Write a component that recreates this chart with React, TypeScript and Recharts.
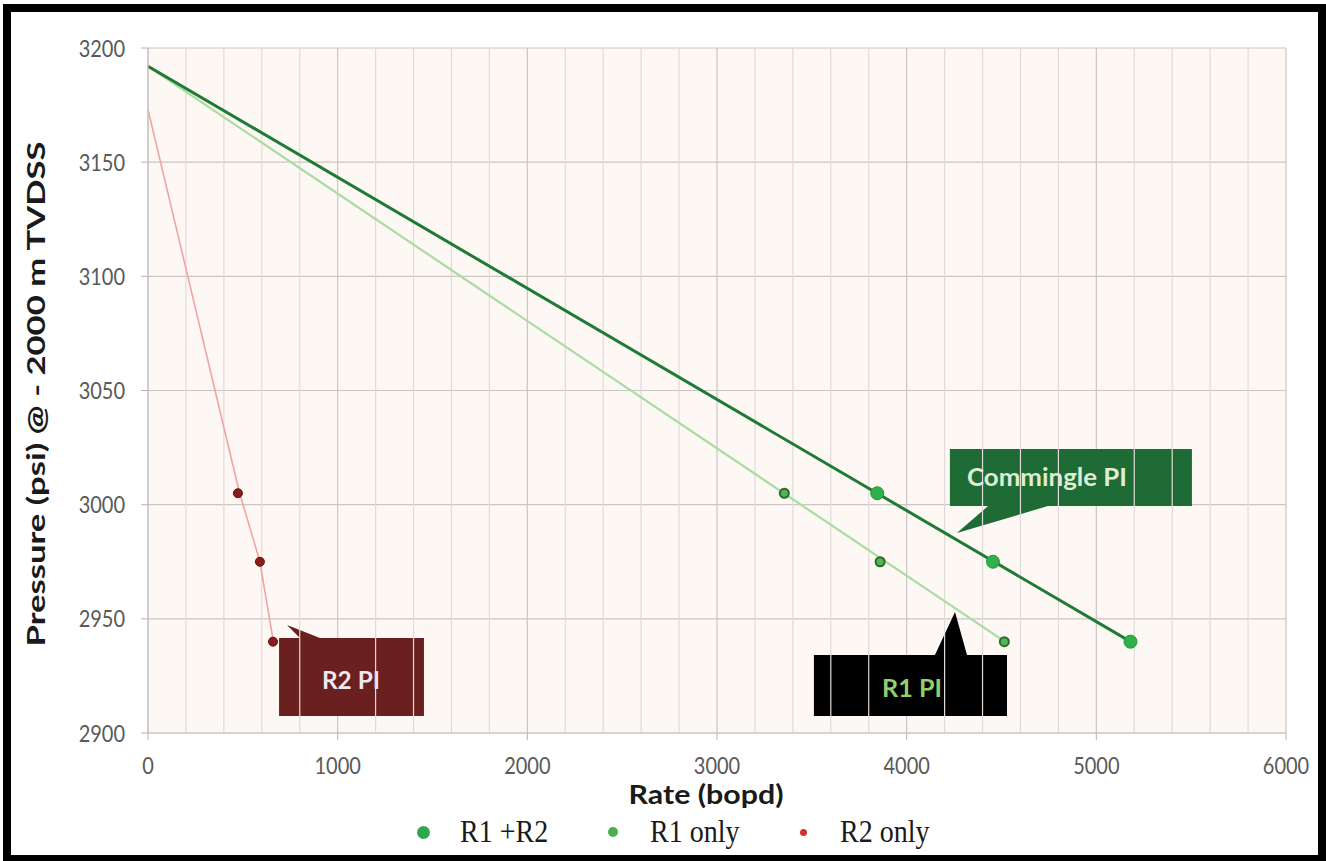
import React from "react";
import {
  CartesianGrid,
  ComposedChart,
  Label,
  Line,
  ReferenceArea,
  ReferenceLine,
  Scatter,
  XAxis,
  YAxis,
} from "recharts";

const xTicks = [0, 1000, 2000, 3000, 4000, 5000, 6000];
const xMinorGrid = [
  200, 400, 600, 800, 1200, 1400, 1600, 1800, 2200, 2400, 2600, 2800, 3200, 3400, 3600, 3800, 4200, 4400,
  4600, 4800, 5200, 5400, 5600, 5800,
];
const yTicks = [2900, 2950, 3000, 3050, 3100, 3150, 3200];

// fitted PI lines
const commingleFit = [
  { x: 0, y: 3192 },
  { x: 5180, y: 2940 },
];
const r1Fit = [
  { x: 0, y: 3192 },
  { x: 4500, y: 2941 },
];
const r2Fit = [
  { x: 0, y: 3173 },
  { x: 480, y: 3006 },
  { x: 590, y: 2975 },
  { x: 665, y: 2938 },
];

// measured points
const r1r2Points = [
  { x: 3845, y: 3005 },
  { x: 4455, y: 2975 },
  { x: 5180, y: 2940 },
];
const r1Points = [
  { x: 3355, y: 3005 },
  { x: 3860, y: 2975 },
  { x: 4515, y: 2940 },
];
const r2Points = [
  { x: 474, y: 3005 },
  { x: 590, y: 2975 },
  { x: 659, y: 2940 },
];

const legendItems = [
  { name: "R1 +R2", color: "#2ea84a", r: 6.5 },
  { name: "R1 only", color: "#4caf50", r: 5 },
  { name: "R2 only", color: "#d33030", r: 3.5 },
];

type Callout = {
  text: string;
  left: number;
  right: number;
  top: number;
  bottom: number;
  edge: "top" | "bottom";
  baseA: number;
  baseB: number;
  apexX: number;
  apexY: number;
  textX: number;
  textY: number;
  fill: string;
  textColor: string;
  textLength: number;
};

const callouts: Callout[] = [
  {
    text: "Commingle PI",
    left: 4228, right: 5504, top: 3024.4, bottom: 2999.4,
    edge: "bottom", baseA: 4429, baseB: 4745, apexX: 4265, apexY: 2987.6,
    textX: 4740, textY: 3012.5, fill: "#1f6b35", textColor: "#dcefd2", textLength: 160,
  },
  {
    text: "R1 PI",
    left: 3511, right: 4529, top: 2934.2, bottom: 2907.4,
    edge: "top", baseA: 4149, baseB: 4318, apexX: 4255, apexY: 2953,
    textX: 4028, textY: 2920, fill: "#000000", textColor: "#8fd06c", textLength: 60,
  },
  {
    text: "R2 PI",
    left: 691, right: 1455, top: 2941.6, bottom: 2907.4,
    edge: "top", baseA: 801, baseB: 907, apexX: 733, apexY: 2947.3,
    textX: 1070, textY: 2923.5, fill: "#6b2020", textColor: "#efe8f2", textLength: 58,
  },
];

const calloutShape = (c: Callout) => (props: any) => {
  const { x, y, width, height } = props;
  const sx = (v: number) => x + ((v - c.left) / (c.right - c.left)) * width;
  const sy = (v: number) => y + ((c.top - v) / (c.top - c.bottom)) * height;
  const L = sx(c.left);
  const R = sx(c.right);
  const T = sy(c.top);
  const B = sy(c.bottom);
  const d =
    c.edge === "top"
      ? `M${L},${T} L${sx(c.baseA)},${T} L${sx(c.apexX)},${sy(c.apexY)} L${sx(c.baseB)},${T} L${R},${T} L${R},${B} L${L},${B} Z`
      : `M${L},${T} L${R},${T} L${R},${B} L${sx(c.baseB)},${B} L${sx(c.apexX)},${sy(c.apexY)} L${sx(c.baseA)},${B} L${L},${B} Z`;
  return (
    <g>
      <path d={d} fill={c.fill} />
      <text
        x={sx(c.textX)}
        y={sy(c.textY)}
        textAnchor="middle"
        dominantBaseline="central"
        fontFamily="Lato"
        fontWeight={700}
        fontSize={24}
        fill={c.textColor}
        textLength={c.textLength}
        lengthAdjust="spacingAndGlyphs"
      >
        {c.text}
      </text>
    </g>
  );
};

const dot = (r: number, fill: string, stroke?: string, sw = 0) => (props: any) =>
  <circle cx={props.cx} cy={props.cy} r={r} fill={fill} stroke={stroke ?? "none"} strokeWidth={sw} />;

const tickFont = { fontFamily: "Lato", fontSize: 20, fill: "#595959" };

const YTick = (props: any) => (
  <g transform={`translate(${props.x},${props.y})`}>
    <text textAnchor="end" dominantBaseline="central" transform="scale(1,1.16)" {...tickFont}>
      {props.payload.value}
    </text>
  </g>
);

const XTick = (props: any) => (
  <g transform={`translate(${props.x},${props.y + 26})`}>
    <text textAnchor="middle" dominantBaseline="central" transform="scale(1,1.12)" {...tickFont}>
      {props.payload.value}
    </text>
  </g>
);

export default function App() {
  return (
    <div style={{ position: "relative", width: 1326, height: 861, background: "#fff", overflow: "hidden" }}>
      <style>{`body{margin:0}`}</style>
      <ComposedChart
        width={1326}
        height={861}
        margin={{ top: 48, right: 40, bottom: 98, left: 88 }}
        style={{ position: "absolute", left: 0, top: 0 }}
      >
        <CartesianGrid fill="#fdf8f3" stroke="#cac5c3" strokeWidth={1.2} />
        {xMinorGrid.map((v) => (
          <ReferenceLine key={v} x={v} stroke="#e0dbd8" strokeWidth={1.2} />
        ))}
        <XAxis
          type="number"
          dataKey="x"
          domain={[0, 6000]}
          ticks={xTicks}
          tickSize={7}
          tickMargin={0}
          height={30}
          tick={<XTick />}
          tickLine={{ stroke: "#b8b3b1" }}
          axisLine={{ stroke: "#cac5c3", strokeWidth: 1.2 }}
        >
          <Label
            content={() => (
              <text
                x={706}
                y={794}
                textAnchor="middle"
                dominantBaseline="central"
                fontFamily="Lato"
                fontWeight={700}
                fontSize={26}
                fill="#1a1a1a"
                textLength={155}
                lengthAdjust="spacingAndGlyphs"
              >
                Rate (bopd)
              </text>
            )}
          />
        </XAxis>
        <YAxis
          type="number"
          dataKey="y"
          domain={[2900, 3200]}
          ticks={yTicks}
          width={60}
          tickSize={7}
          tickMargin={16}
          tick={<YTick />}
          tickLine={{ stroke: "#b8b3b1" }}
          axisLine={{ stroke: "#cac5c3", strokeWidth: 1.2 }}
        >
          <Label
            content={() => (
              <text
                x={35}
                y={394}
                transform="rotate(-90 35 394)"
                textAnchor="middle"
                dominantBaseline="central"
                fontFamily="Lato"
                fontWeight={700}
                fontSize={25}
                fill="#1a1a1a"
                textLength={505}
                lengthAdjust="spacingAndGlyphs"
              >
                Pressure (psi) @ - 2000 m TVDSS
              </text>
            )}
          />
        </YAxis>
        <Line data={r2Fit} dataKey="y" stroke="#f2a3a3" strokeWidth={1.6} dot={false} isAnimationActive={false} />
        <Line data={r1Fit} dataKey="y" stroke="#a9dca2" strokeWidth={2.2} dot={false} isAnimationActive={false} />
        <Line data={commingleFit} dataKey="y" stroke="#1f7a35" strokeWidth={3} dot={false} isAnimationActive={false} />
        <Scatter data={r2Points} dataKey="y" shape={dot(4.5, "#8c1b1b", "#5a1010", 1)} isAnimationActive={false} />
        <Scatter data={r1Points} dataKey="y" shape={dot(4.5, "#55b45a", "#276b2c", 2)} isAnimationActive={false} />
        <Scatter data={r1r2Points} dataKey="y" shape={dot(6.5, "#2fb24b", "#26913d", 1)} isAnimationActive={false} />
        {callouts.map((c) => (
          <ReferenceArea
            key={c.text}
            x1={c.left}
            x2={c.right}
            y1={c.bottom}
            y2={c.top}
            ifOverflow="visible"
            shape={calloutShape(c)}
          />
        ))}
      </ComposedChart>
      <div
        style={{
          position: "absolute",
          left: 416,
          top: 814,
          display: "flex",
          alignItems: "center",
          fontFamily: "Liberation Serif",
          fontSize: 28,
          color: "#1a1a1a",
          height: 36,
        }}
      >
        {legendItems.map((it) => (
          <div key={it.name} style={{ display: "flex", alignItems: "center", width: 190 }}>
            <div style={{ width: 14, display: "flex", justifyContent: "center" }}>
              <div style={{ width: it.r * 2, height: it.r * 2, borderRadius: "50%", background: it.color }} />
            </div>
            <span style={{ marginLeft: 30, display: "inline-block", transform: "scaleY(1.15)" }}>{it.name}</span>
          </div>
        ))}
      </div>
      <div
        style={{
          position: "absolute",
          left: 3,
          top: 4,
          width: 1323,
          height: 857,
          boxSizing: "border-box",
          border: "8px solid #000",
          borderBottomWidth: 6,
        }}
      />
    </div>
  );
}
